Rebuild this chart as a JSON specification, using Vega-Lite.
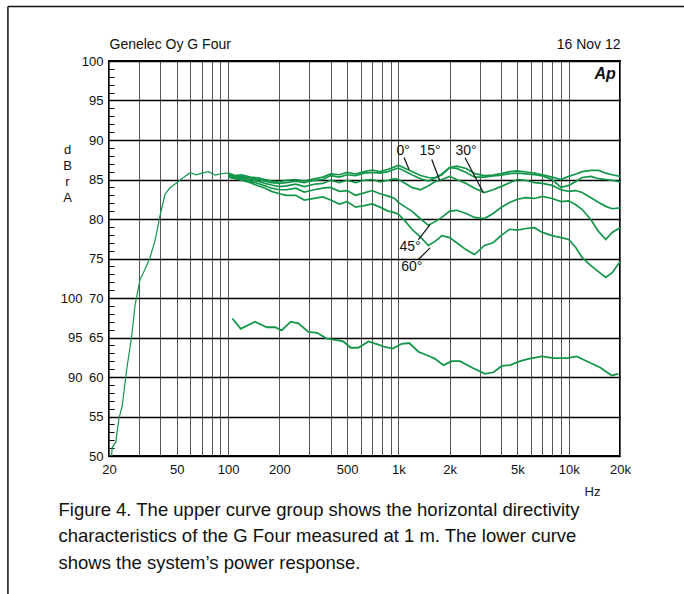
{
  "$schema": "https://vega.github.io/schema/vega-lite/v6.json",
  "width": 511,
  "height": 395,
  "autosize": {"type": "none"},
  "padding": {"left": 109, "top": 61, "right": 64, "bottom": 138},
  "background": "white",
  "config": {
    "view": {"stroke": "#000", "strokeWidth": 2},
    "font": "Liberation Sans",
    "axis": {"labelFont": "Liberation Sans", "titleFont": "Liberation Sans", "labelColor": "#111", "titleColor": "#111", "titleFontWeight": "normal"},
    "text": {"font": "Liberation Sans"}
  },
  "datasets": {
    "curves": [
      {"f":100,"0°":85.8,"15°":85.6,"30°":85.5,"45°":85.4,"60°":85.3},
      {"f":110,"0°":85.5,"15°":85.4,"30°":85.3,"45°":85.2,"60°":85.1},
      {"f":120,"0°":85.6,"15°":85.4,"30°":85.3,"45°":85.1,"60°":84.9},
      {"f":135,"0°":85.3,"15°":85.2,"30°":85.0,"45°":84.8,"60°":84.6},
      {"f":150,"0°":85.2,"15°":85.0,"30°":84.8,"45°":84.5,"60°":84.2},
      {"f":165,"0°":85.0,"15°":84.8,"30°":84.5,"45°":84.2,"60°":83.9},
      {"f":180,"0°":84.8,"15°":84.6,"30°":84.3,"45°":83.9,"60°":83.5},
      {"f":200,"0°":84.7,"15°":84.5,"30°":84.1,"45°":83.7,"60°":83.2},
      {"f":220,"0°":84.9,"15°":84.6,"30°":84.2,"45°":83.7,"60°":83.0},
      {"f":250,"0°":85.0,"15°":84.8,"30°":84.4,"45°":83.9,"60°":83.0},
      {"f":280,"0°":84.8,"15°":84.6,"30°":84.1,"45°":83.4,"60°":82.4},
      {"f":320,"0°":85.1,"15°":84.9,"30°":84.4,"45°":83.7,"60°":82.6},
      {"f":360,"0°":85.3,"15°":85.0,"30°":84.5,"45°":83.9,"60°":82.8},
      {"f":400,"0°":85.7,"15°":85.5,"30°":84.9,"45°":84.0,"60°":82.4},
      {"f":450,"0°":85.6,"15°":85.3,"30°":84.6,"45°":83.5,"60°":81.9},
      {"f":500,"0°":85.9,"15°":85.6,"30°":84.9,"45°":83.6,"60°":82.2},
      {"f":560,"0°":85.7,"15°":85.5,"30°":84.6,"45°":83.0,"60°":81.5},
      {"f":630,"0°":86.0,"15°":85.8,"30°":84.9,"45°":83.3,"60°":81.7},
      {"f":700,"0°":86.2,"15°":85.9,"30°":85.0,"45°":83.6,"60°":81.9},
      {"f":780,"0°":86.0,"15°":85.8,"30°":84.7,"45°":83.2,"60°":81.5},
      {"f":870,"0°":86.3,"15°":86.0,"30°":84.9,"45°":82.9,"60°":81.0},
      {"f":950,"0°":86.6,"15°":86.3,"30°":85.1,"45°":82.6,"60°":80.8},
      {"f":1000,"0°":86.8,"15°":86.45,"30°":85.0,"45°":82.1,"60°":80.6},
      {"f":1100,"0°":86.4,"15°":86.0,"30°":84.5,"45°":81.5,"60°":79.7},
      {"f":1200,"0°":86.0,"15°":85.6,"30°":84.0,"45°":81.0,"60°":78.7},
      {"f":1350,"0°":85.5,"15°":85.1,"30°":83.7,"45°":80.0,"60°":77.7},
      {"f":1500,"0°":85.25,"15°":84.8,"30°":84.2,"45°":79.2,"60°":76.65},
      {"f":1650,"0°":85.2,"15°":85.25,"30°":84.75,"45°":79.7,"60°":77.2},
      {"f":1800,"0°":85.6,"15°":85.7,"30°":85.0,"45°":80.2,"60°":77.9},
      {"f":2000,"0°":86.5,"15°":86.5,"30°":85.4,"45°":81.0,"60°":77.65},
      {"f":2200,"0°":86.7,"15°":86.4,"30°":85.0,"45°":81.1,"60°":77.0},
      {"f":2500,"0°":86.4,"15°":85.9,"30°":84.5,"45°":80.7,"60°":76.1},
      {"f":2800,"0°":85.75,"15°":85.3,"30°":83.9,"45°":80.2,"60°":75.5},
      {"f":3200,"0°":85.5,"15°":85.3,"30°":83.35,"45°":80.05,"60°":76.65},
      {"f":3600,"0°":85.55,"15°":85.45,"30°":83.7,"45°":80.7,"60°":77.0},
      {"f":4000,"0°":85.75,"15°":85.55,"30°":84.1,"45°":81.45,"60°":77.9},
      {"f":4500,"0°":86.0,"15°":85.75,"30°":84.6,"45°":82.1,"60°":78.7},
      {"f":5000,"0°":86.1,"15°":85.8,"30°":85.0,"45°":82.5,"60°":78.6},
      {"f":5600,"0°":85.95,"15°":85.7,"30°":84.9,"45°":82.7,"60°":78.8},
      {"f":6300,"0°":85.8,"15°":85.6,"30°":84.6,"45°":82.6,"60°":78.9},
      {"f":7000,"0°":85.6,"15°":85.45,"30°":84.5,"45°":82.85,"60°":78.3},
      {"f":8000,"0°":85.3,"15°":85.0,"30°":84.25,"45°":82.6,"60°":77.9},
      {"f":9000,"0°":85.0,"15°":84.0,"30°":83.7,"45°":82.2,"60°":77.65},
      {"f":10000,"0°":85.4,"15°":84.25,"30°":83.5,"45°":82.3,"60°":77.4},
      {"f":11000,"0°":85.7,"15°":84.75,"30°":83.6,"45°":81.8,"60°":76.4},
      {"f":12000,"0°":86.0,"15°":85.25,"30°":83.35,"45°":81.2,"60°":75.1},
      {"f":13500,"0°":86.15,"15°":85.4,"30°":82.7,"45°":79.9,"60°":74.1},
      {"f":15000,"0°":86.15,"15°":85.1,"30°":82.1,"45°":78.4,"60°":73.3},
      {"f":16500,"0°":85.8,"15°":85.0,"30°":81.6,"45°":77.4,"60°":72.6},
      {"f":18000,"0°":85.6,"15°":84.9,"30°":81.3,"45°":78.3,"60°":73.2},
      {"f":20000,"0°":85.4,"15°":84.7,"30°":81.4,"45°":78.9,"60°":74.6}
    ],
    "lf": [
      {"f":20.7,"db":50.0},{"f":20.9,"db":51.1},{"f":21.9,"db":51.75},{"f":22.9,"db":54.8},
      {"f":23.9,"db":56.3},{"f":25.4,"db":60.95},{"f":27.2,"db":65.2},{"f":28.4,"db":69.0},
      {"f":30.4,"db":72.3},{"f":32.5,"db":73.6},{"f":34.8,"db":75.1},{"f":37.2,"db":77.2},
      {"f":39.8,"db":80.35},{"f":42.6,"db":83.1},{"f":45.6,"db":83.95},{"f":50,"db":84.6},
      {"f":55,"db":85.3},{"f":60,"db":85.85},{"f":65,"db":85.6},{"f":70,"db":85.8},
      {"f":77,"db":86.0},{"f":84,"db":85.55},{"f":93,"db":85.76},{"f":100,"db":85.8}
    ],
    "power": [
      {"f":106,"db":97.4},{"f":118.7,"db":96.1},{"f":143.9,"db":97.0},{"f":168.7,"db":96.3},
      {"f":188.8,"db":96.3},{"f":206.6,"db":95.9},{"f":233.3,"db":97.0},{"f":258.8,"db":96.8},
      {"f":296,"db":95.7},{"f":334,"db":95.6},{"f":376,"db":94.9},{"f":425,"db":94.7},
      {"f":475,"db":94.5},{"f":525,"db":93.7},{"f":582,"db":93.7},{"f":667,"db":94.5},
      {"f":747,"db":94.15},{"f":836,"db":93.8},{"f":927,"db":93.6},{"f":1047,"db":94.2},
      {"f":1159,"db":94.3},{"f":1310,"db":93.2},{"f":1535,"db":92.6},{"f":1641,"db":92.3},
      {"f":1838,"db":91.5},{"f":2058,"db":92.0},{"f":2303,"db":92.0},{"f":2697,"db":91.2},
      {"f":3229,"db":90.4},{"f":3615,"db":90.6},{"f":4048,"db":91.4},{"f":4530,"db":91.5},
      {"f":5180,"db":92.0},{"f":5798,"db":92.3},{"f":6950,"db":92.6},{"f":8128,"db":92.4},
      {"f":9750,"db":92.4},{"f":11150,"db":92.6},{"f":12760,"db":92.0},{"f":15280,"db":91.2},
      {"f":17900,"db":90.2},{"f":19580,"db":90.4}
    ],
    "labels": [
      {"t":"0°","f":1066,"db":88.55},
      {"t":"15°","f":1535,"db":88.55},
      {"t":"30°","f":2497,"db":88.55},
      {"t":"45°","f":1171,"db":76.5},
      {"t":"60°","f":1200,"db":73.9}
    ],
    "leaders": [
      {"f":1080,"db":87.78,"f2":1155,"db2":86.27},
      {"f":1570,"db":87.53,"f2":1756,"db2":84.78},
      {"f":2462,"db":87.75,"f2":3154,"db2":83.32},
      {"f":1310,"db":77.4,"f2":1535,"db2":79.3},
      {"f":1310,"db":74.87,"f2":1535,"db2":76.35}
    ]
  },
  "resolve": {"scale": {"y": "independent"}, "axis": {"x": "independent", "y": "independent"}},
  "layer": [
    {
      "data": {"name": "lf"},
      "mark": {"type": "line", "color": "#12964a", "strokeWidth": 1.2},
      "encoding": {
        "x": {"field": "f", "type": "quantitative",
          "scale": {"type": "log", "domain": [20, 20000], "nice": false},
          "axis": {"orient": "bottom",
            "values": [20,30,40,50,60,70,80,90,100,200,300,400,500,600,700,800,900,1000,2000,3000,4000,5000,6000,7000,8000,9000,10000,20000],
            "grid": true, "gridColor": "#555", "gridWidth": 1, "labels": false, "ticks": false, "domain": false,
            "title": ["Figure 4. The upper curve group shows the horizontal directivity", "characteristics of the G Four measured at 1 m. The lower curve", "shows the system’s power response."],
            "titleX": -51, "titleY": 44, "titleAlign": "left", "titleBaseline": "top", "titleAngle": 0,
            "titleFontSize": 18.5, "titleLineHeight": 26.5}},
        "y": {"field": "db", "type": "quantitative",
          "scale": {"domain": [50, 100], "nice": false, "zero": false},
          "axis": {"orient": "left",
            "values": [50,51,52,53,54,55,56,57,58,59,60,61,62,63,64,65,66,67,68,69,70,71,72,73,74,75,76,77,78,79,80,81,82,83,84,85,86,87,88,89,90,91,92,93,94,95,96,97,98,99,100],
            "ticks": true, "tickSize": -5, "tickColor": "#000", "tickWidth": 1,
            "labels": false, "domain": false, "grid": false, "title": null}}
      }
    },
    {
      "data": {"name": "curves"},
      "transform": [{"fold": ["0°", "15°", "30°", "45°", "60°"], "as": ["a", "db"]}],
      "mark": {"type": "line", "color": "#12964a", "strokeWidth": 1.7},
      "encoding": {
        "x": {"field": "f", "type": "quantitative",
          "scale": {"type": "log", "domain": [20, 20000], "nice": false},
          "axis": {"orient": "bottom",
            "values": [20,50,100,200,500,1000,2000,5000,10000,20000],
            "labelExpr": "datum.value >= 1000 ? (datum.value / 1000) + 'k' : datum.value",
            "grid": false, "ticks": false, "tickSize": 0, "domain": false, "labelPadding": 7,
            "labelFontSize": 13, "labelFlush": false,
            "title": "Hz", "titleX": 483, "titleY": 35, "titleAlign": "center", "titleBaseline": "middle", "titleFontSize": 13}},
        "y": {"field": "db", "type": "quantitative",
          "scale": {"domain": [50, 100], "nice": false, "zero": false},
          "axis": {"orient": "left",
            "values": [50,55,60,65,70,75,80,85,90,95,100],
            "grid": true, "gridColor": "#000", "gridWidth": 1.5,
            "ticks": false, "tickSize": 0, "labelPadding": 6, "domain": false, "labelFontSize": 13, "labelFlush": false,
            "title": ["d", "B", "r", " ", "A"], "titleAngle": 0, "titleX": -42, "titleY": 82,
            "titleAlign": "center", "titleBaseline": "top", "titleLineHeight": 16, "titleFontSize": 13}},
        "detail": {"field": "a", "type": "nominal"}
      }
    },
    {
      "data": {"name": "power"},
      "mark": {"type": "line", "color": "#12964a", "strokeWidth": 1.8},
      "encoding": {
        "x": {"field": "f", "type": "quantitative",
          "scale": {"type": "log", "domain": [20, 20000], "nice": false},
          "axis": {"orient": "top", "labels": false, "ticks": false, "domain": false, "grid": false,
            "title": "16 Nov 12", "titleX": 511, "titleY": -17, "titleAlign": "right", "titleBaseline": "middle", "titleFontSize": 14}},
        "y": {"field": "db", "type": "quantitative",
          "scale": {"domain": [80, 130], "nice": false, "zero": false},
          "axis": {"orient": "left", "values": [90, 95, 100], "offset": 0,
            "grid": false, "ticks": false, "tickSize": 0, "labelPadding": 27, "domain": false, "labelFontSize": 13, "title": null}}
      }
    },
    {
      "data": {"name": "labels"},
      "mark": {"type": "text", "fontSize": 14, "color": "#111", "align": "center", "baseline": "middle"},
      "encoding": {
        "x": {"field": "f", "type": "quantitative",
          "scale": {"type": "log", "domain": [20, 20000], "nice": false},
          "axis": {"orient": "top", "labels": false, "ticks": false, "domain": false, "grid": false,
            "title": "Genelec Oy G Four", "titleX": 0, "titleY": -17, "titleAlign": "left", "titleBaseline": "middle", "titleFontSize": 14}},
        "y": {"field": "db", "type": "quantitative",
          "scale": {"domain": [50, 100], "nice": false, "zero": false}, "axis": null},
        "text": {"field": "t", "type": "nominal"}
      }
    },
    {
      "data": {"name": "leaders"},
      "mark": {"type": "rule", "color": "#111", "strokeWidth": 1.2},
      "encoding": {
        "x": {"field": "f", "type": "quantitative",
          "scale": {"type": "log", "domain": [20, 20000], "nice": false}, "axis": null},
        "x2": {"field": "f2"},
        "y": {"field": "db", "type": "quantitative",
          "scale": {"domain": [50, 100], "nice": false, "zero": false}, "axis": null},
        "y2": {"field": "db2"}
      }
    },
    {
      "data": {"values": [{}]},
      "mark": {"type": "text", "text": "Ap", "fontSize": 16, "fontWeight": "bold", "fontStyle": "italic", "color": "#111", "align": "center", "baseline": "middle"},
      "encoding": {
        "x": {"datum": 16350, "type": "quantitative",
          "scale": {"type": "log", "domain": [20, 20000], "nice": false}, "axis": null},
        "y": {"datum": 98.3, "type": "quantitative",
          "scale": {"domain": [50, 100], "nice": false, "zero": false}, "axis": null}
      }
    },
    {
      "data": {"values": [{}]},
      "mark": {"type": "rule", "color": "#111", "strokeWidth": 1.5},
      "encoding": {
        "x": {"datum": 5.1, "type": "quantitative",
          "scale": {"type": "log", "domain": [20, 20000], "nice": false}, "axis": null},
        "x2": {"datum": 60000},
        "y": {"datum": 106.9, "type": "quantitative",
          "scale": {"domain": [50, 100], "nice": false, "zero": false}, "axis": null}
      }
    },
    {
      "data": {"values": [{}]},
      "mark": {"type": "rule", "color": "#111", "strokeWidth": 1.5},
      "encoding": {
        "x": {"datum": 5.1, "type": "quantitative",
          "scale": {"type": "log", "domain": [20, 20000], "nice": false}, "axis": null},
        "y": {"datum": 106.9, "type": "quantitative",
          "scale": {"domain": [50, 100], "nice": false, "zero": false}, "axis": null},
        "y2": {"datum": 28}
      }
    }
  ]
}
